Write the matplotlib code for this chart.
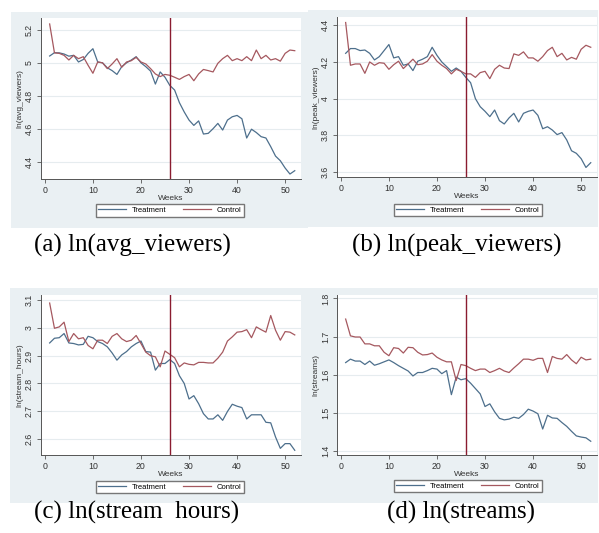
import matplotlib
matplotlib.use("Agg")
import matplotlib.pyplot as plt

W, H = 599, 533

weeks = list(range(1, 53))

avg_treat = [5.041, 5.061, 5.060, 5.053, 5.040, 5.045, 5.005, 5.020, 5.057, 5.085,
             5.005, 5.000, 4.970, 4.953, 4.930, 4.977, 5.000, 5.017, 5.037, 5.000,
             4.977, 4.950, 4.872, 4.945, 4.913, 4.864, 4.836, 4.760, 4.704, 4.655,
             4.623, 4.650, 4.571, 4.575, 4.603, 4.635, 4.595, 4.655, 4.675, 4.683,
             4.663, 4.547, 4.600, 4.580, 4.555, 4.547, 4.495, 4.438, 4.410, 4.366,
             4.330, 4.350]
avg_ctrl = [5.234, 5.060, 5.057, 5.045, 5.017, 5.045, 5.025, 5.037, 4.985, 4.937,
            5.005, 5.000, 4.965, 4.993, 5.025, 4.973, 5.005, 5.013, 5.033, 5.005,
            4.993, 4.965, 4.933, 4.917, 4.930, 4.925, 4.913, 4.900, 4.917, 4.930,
            4.892, 4.933, 4.960, 4.953, 4.945, 4.997, 5.025, 5.045, 5.013, 5.025,
            5.013, 5.037, 5.013, 5.077, 5.025, 5.045, 5.017, 5.025, 5.010, 5.057,
            5.077, 5.073]

peak_treat = [4.247, 4.273, 4.273, 4.262, 4.265, 4.247, 4.211, 4.229, 4.262, 4.295,
              4.222, 4.229, 4.182, 4.189, 4.153, 4.204, 4.215, 4.229, 4.280, 4.236,
              4.200, 4.175, 4.149, 4.167, 4.149, 4.116, 4.087, 4.000, 3.956, 3.931,
              3.902, 3.938, 3.880, 3.862, 3.895, 3.920, 3.873, 3.920, 3.931, 3.938,
              3.909, 3.836, 3.847, 3.829, 3.804, 3.815, 3.775, 3.716, 3.702, 3.673,
              3.625, 3.651]
peak_ctrl = [4.415, 4.182, 4.189, 4.189, 4.138, 4.200, 4.182, 4.196, 4.193, 4.160,
             4.185, 4.204, 4.164, 4.189, 4.215, 4.185, 4.189, 4.204, 4.240, 4.204,
             4.182, 4.164, 4.135, 4.160, 4.149, 4.135, 4.135, 4.116, 4.142, 4.149,
             4.109, 4.160, 4.182, 4.167, 4.164, 4.244, 4.236, 4.255, 4.222, 4.222,
             4.204, 4.229, 4.262, 4.280, 4.229, 4.247, 4.211, 4.225, 4.215, 4.269,
             4.291, 4.280]

hours_treat = [2.946, 2.963, 2.965, 2.980, 2.946, 2.944, 2.939, 2.941, 2.970, 2.965,
               2.951, 2.944, 2.932, 2.910, 2.884, 2.903, 2.915, 2.932, 2.944, 2.953,
               2.915, 2.913, 2.848, 2.872, 2.872, 2.886, 2.872, 2.828, 2.800, 2.744,
               2.756, 2.727, 2.691, 2.672, 2.672, 2.687, 2.667, 2.699, 2.725, 2.718,
               2.713, 2.672, 2.687, 2.687, 2.687, 2.660, 2.658, 2.607, 2.566, 2.583,
               2.583, 2.559]
hours_ctrl = [3.090, 2.999, 3.004, 3.021, 2.951, 2.980, 2.961, 2.965, 2.937, 2.925,
              2.956, 2.956, 2.944, 2.970, 2.980, 2.961, 2.951, 2.956, 2.973, 2.944,
              2.913, 2.900, 2.896, 2.860, 2.917, 2.905, 2.893, 2.860, 2.874, 2.869,
              2.867, 2.876, 2.876, 2.874, 2.874, 2.891, 2.913, 2.953, 2.968, 2.985,
              2.987, 2.994, 2.965, 3.004, 2.994, 2.985, 3.045, 2.992, 2.956, 2.987,
              2.985, 2.975]

streams_treat = [1.632, 1.641, 1.636, 1.636, 1.627, 1.636, 1.625, 1.629, 1.634, 1.639,
                 1.632, 1.624, 1.617, 1.610, 1.597, 1.606, 1.606, 1.611, 1.617, 1.615,
                 1.603, 1.611, 1.548, 1.594, 1.587, 1.590, 1.578, 1.564, 1.550, 1.517,
                 1.524, 1.503, 1.486, 1.482, 1.484, 1.489, 1.486, 1.496, 1.510, 1.505,
                 1.498, 1.458, 1.494, 1.487, 1.486, 1.475, 1.465, 1.452, 1.440, 1.437,
                 1.435, 1.426]
streams_ctrl = [1.746, 1.702, 1.699, 1.699, 1.681, 1.681, 1.676, 1.676, 1.659, 1.650,
                1.671, 1.669, 1.657, 1.672, 1.671, 1.659, 1.652, 1.653, 1.657, 1.646,
                1.639, 1.634, 1.634, 1.585, 1.627, 1.624, 1.617, 1.611, 1.615, 1.615,
                1.606, 1.611, 1.617, 1.610, 1.606, 1.618, 1.629, 1.641, 1.641, 1.638,
                1.643, 1.643, 1.606, 1.648, 1.643, 1.641, 1.653, 1.639, 1.629, 1.646,
                1.639, 1.641]

event_week = 26
x_ticks = [0, 10, 20, 30, 40, 50]

panels = [
    dict(t=avg_treat, c=avg_ctrl, ylabel="ln(avg_viewers)",
         yticks=[4.4, 4.6, 4.8, 5.0, 5.2], yticklabels=["4.4", "4.6", "4.8", "5", "5.2"],
         ylim=(4.30, 5.27), caption="(a) ln(avg_viewers)",
         bg=(11, 12, 308, 228), plot=(41, 18, 301, 179), leg=(170, 210.5), cap=(132, 245)),
    dict(t=peak_treat, c=peak_ctrl, ylabel="ln(peak_viewers)",
         yticks=[3.6, 3.8, 4.0, 4.2, 4.4], yticklabels=["3.6", "3.8", "4", "4.2", "4.4"],
         ylim=(3.573, 4.445), caption="(b) ln(peak_viewers)",
         bg=(308, 10, 598, 227), plot=(337, 17, 597, 177), leg=(468, 210), cap=(457, 245)),
    dict(t=hours_treat, c=hours_ctrl, ylabel="ln(stream_hours)",
         yticks=[2.6, 2.7, 2.8, 2.9, 3.0, 3.1], yticklabels=["2.6", "2.7", "2.8", "2.9", "3", "3.1"],
         ylim=(2.542, 3.119), caption="(c) ln(stream  hours)",
         bg=(10, 288, 300, 503), plot=(41, 295, 301, 455), leg=(170, 487), cap=(137, 512)),
    dict(t=streams_treat, c=streams_ctrl, ylabel="ln(streams)",
         yticks=[1.4, 1.5, 1.6, 1.7, 1.8], yticklabels=["1.4", "1.5", "1.6", "1.7", "1.8"],
         ylim=(1.39, 1.809), caption="(d) ln(streams)",
         bg=(300, 288, 598, 503), plot=(337, 295, 597, 455), leg=(468, 486), cap=(461, 512)),
]

BG = "#eaf0f3"
TREAT = "#4d6f8c"
CTRL = "#a5585f"
VLINE = "#8a1c30"
AXC = "#555555"
GRID = "#e6ecef"

plt.rcParams["font.family"] = ["Liberation Sans", "DejaVu Sans"]

fig = plt.figure(figsize=(W / 100, H / 100), dpi=100)
fig.patch.set_facecolor("white")


def rect(x0, y0, x1, y1):
    return [x0 / W, 1 - y1 / H, (x1 - x0) / W, (y1 - y0) / H]


for p in panels:
    bx0, by0, bx1, by1 = p["bg"]
    bgax = fig.add_axes(rect(bx0, by0, bx1, by1), zorder=-5)
    bgax.set_facecolor(BG)
    bgax.set_xticks([])
    bgax.set_yticks([])
    for s in bgax.spines.values():
        s.set_visible(False)

for p in panels:
    ax = fig.add_axes(rect(*p["plot"]), zorder=1)
    ax.set_facecolor("white")
    lt, = ax.plot(weeks, p["t"], color=TREAT, lw=0.9, label="Treatment")
    lc, = ax.plot(weeks, p["c"], color=CTRL, lw=0.9, label="Control")
    ax.axvline(event_week, color=VLINE, lw=1.0)
    ax.set_xlim(-0.8, 53.3)
    ax.set_ylim(*p["ylim"])
    ax.set_xticks(x_ticks)
    ax.set_yticks(p["yticks"])
    ax.set_yticklabels(p["yticklabels"], rotation=90, va="center")
    ax.grid(axis="y", color=GRID, lw=0.8)
    ax.set_axisbelow(True)
    for s in ["top", "right"]:
        ax.spines[s].set_visible(False)
    for s in ["left", "bottom"]:
        ax.spines[s].set_color(AXC)
        ax.spines[s].set_linewidth(0.7)
    ax.tick_params(axis="both", labelsize=6.3, colors=AXC, length=3, width=0.6, pad=2,
                   labelcolor="#333333")
    ax.set_xlabel("Weeks", fontsize=6, color="#333333", labelpad=0)
    ax.set_ylabel(p["ylabel"], fontsize=6, color="#333333", labelpad=1)
    lx, ly = p["leg"]
    leg = fig.legend(handles=[lt, lc], loc="center", bbox_to_anchor=(lx / W, 1 - ly / H),
                     ncol=2, fontsize=5.5, frameon=True, fancybox=False, edgecolor="#777777",
                     facecolor="white", framealpha=1, handlelength=3.6, columnspacing=2.2,
                     borderpad=0.35, handletextpad=0.8, borderaxespad=0)
    leg.set_zorder(3)
    cx, cy = p["cap"]
    fig.text(cx / W, 1 - cy / H, p["caption"], ha="center", va="center",
             fontsize=18, family=["Liberation Serif", "DejaVu Serif"], color="black")

fig.savefig("out.png", dpi=100)
